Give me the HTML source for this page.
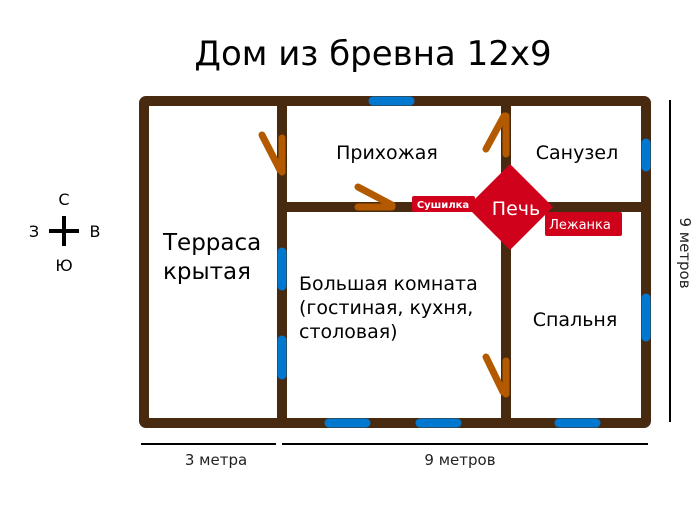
<!DOCTYPE html>
<html><head><meta charset="utf-8"><style>body{margin:0;background:#fff}</style></head><body>
<svg width="700" height="500" xmlns="http://www.w3.org/2000/svg" font-family="'DejaVu Sans','Liberation Sans',sans-serif">
<rect width="700" height="500" fill="#fff"/>
<text x="373" y="65" font-size="34" text-anchor="middle" fill="#000">Дом из бревна 12x9</text>
<g stroke="#472a10" stroke-width="10" fill="none" stroke-linecap="round">
<rect x="144" y="101" width="502" height="322" rx="2"/>
<line x1="282" y1="101" x2="282" y2="423" stroke-linecap="butt"/>
<line x1="282" y1="207" x2="646" y2="207" stroke-linecap="butt"/>
<line x1="506" y1="101" x2="506" y2="423" stroke-linecap="butt"/>
</g>
<g stroke="#0078cf" stroke-width="9" stroke-linecap="round">
<line x1="373" y1="101" x2="410" y2="101"/>
<line x1="646" y1="143" x2="646" y2="167"/>
<line x1="646" y1="298" x2="646" y2="337"/>
<line x1="282" y1="252" x2="282" y2="286"/>
<line x1="282" y1="340" x2="282" y2="375"/>
<line x1="329" y1="423" x2="366" y2="423"/>
<line x1="420" y1="423" x2="457" y2="423"/>
<line x1="559" y1="423" x2="596" y2="423"/>
</g>
<g stroke="#b35a00" stroke-width="7" stroke-linecap="round" fill="none">
<line x1="282" y1="138" x2="282" y2="172"/><line x1="262" y1="135" x2="280" y2="170"/>
<line x1="506" y1="116" x2="506" y2="154"/><line x1="486" y1="149" x2="504" y2="116"/>
<line x1="358" y1="207" x2="392" y2="207"/><line x1="358" y1="187" x2="392" y2="205"/>
<line x1="506" y1="361" x2="506" y2="394"/><line x1="486" y1="357" x2="503" y2="392"/>
</g>
<polygon points="510,164 553,207 510,250 467,207" fill="#d0021b"/>
<rect x="412" y="196" width="63" height="16" rx="2" fill="#d0021b"/>
<rect x="545" y="212" width="77" height="24" rx="2" fill="#d0021b"/>
<text x="443" y="208" font-size="10" font-weight="bold" fill="#fff" text-anchor="middle">Сушилка</text>
<text x="516" y="215" font-size="19" fill="#fff" text-anchor="middle">Печь</text>
<text x="580" y="229" font-size="13" fill="#fff" text-anchor="middle">Лежанка</text>
<g font-size="19" fill="#000">
<text x="387" y="159" text-anchor="middle">Прихожая</text>
<text x="577" y="159" text-anchor="middle">Санузел</text>
<text x="575" y="326" text-anchor="middle">Спальня</text>
<text x="299" y="290">Большая комната</text>
<text x="299" y="314">(гостиная, кухня,</text>
<text x="299" y="338">столовая)</text>
</g>
<text x="163" y="250" font-size="23">Терраса</text>
<text x="163" y="279" font-size="23">крытая</text>
<g stroke="#000" stroke-width="4"><line x1="64" y1="216" x2="64" y2="246"/><line x1="49" y1="231" x2="79" y2="231"/></g>
<g font-size="16" fill="#000" text-anchor="middle">
<text x="64" y="205">С</text><text x="34" y="237">З</text><text x="95" y="237">В</text><text x="64" y="271">Ю</text>
</g>
<g stroke="#000" stroke-width="2"><line x1="141" y1="444" x2="276" y2="444"/><line x1="282" y1="444" x2="648" y2="444"/><line x1="670" y1="100" x2="670" y2="422"/></g>
<g font-size="15" fill="#222" text-anchor="middle">
<text x="216" y="465">3 метра</text><text x="460" y="465">9 метров</text>
<text transform="translate(680,253) rotate(90)">9 метров</text>
</g>
</svg>
</body></html>
